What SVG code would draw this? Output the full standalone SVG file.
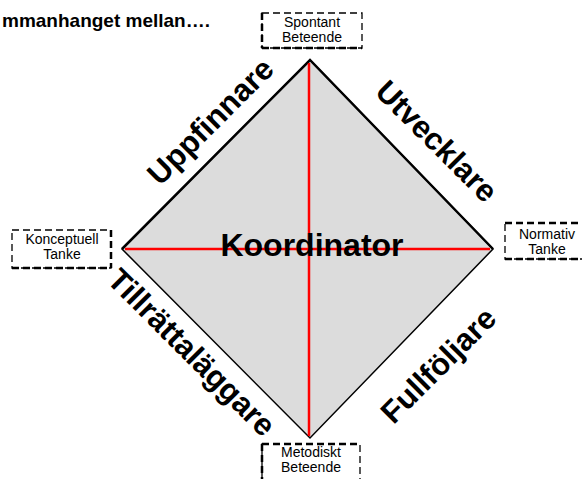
<svg xmlns="http://www.w3.org/2000/svg" width="582" height="479" viewBox="0 0 582 479">
<style>
.box{fill:#fff;stroke:#000;stroke-width:1.3;stroke-dasharray:7 4}
.boxb{fill:none;stroke:#000;stroke-width:2.5;stroke-dasharray:7 4}
.bt{font-family:"Liberation Sans",Arial,sans-serif;font-size:14px;fill:#000;text-anchor:middle}
.lab{font-family:"Liberation Sans",Arial,sans-serif;font-size:31px;font-weight:bold;fill:#000;text-anchor:middle}
.red{stroke:#ff0000;stroke-width:2.5}
</style>
<rect width="582" height="479" fill="#fff"/>
<text x="210" y="27" font-family="'Liberation Sans',Arial,sans-serif" font-size="19" font-weight="bold" text-anchor="end">mmanhanget mellan….</text>
<g id="diamond">
<polygon points="310,60 493,249 310,438 122,249" fill="#dcdcdc" stroke="#000" stroke-width="1.5"/>
<polyline points="122,249 310,60 493,249" fill="none" stroke="#000" stroke-width="2.5"/>
</g>
<g id="connectors">
<line class="red" x1="309" y1="63" x2="309" y2="436"/>
<line class="red" x1="125" y1="249" x2="490" y2="249"/>
</g>
<g id="koordinator">
<text x="312" y="256" font-family="'Liberation Sans',Arial,sans-serif" font-size="32" font-weight="bold" text-anchor="middle">Koordinator</text>
</g>
<g id="spontant">
<rect class="box" x="262" y="13" width="100" height="35"/>
<line class="boxb" x1="262" y1="48" x2="362" y2="48"/>
<line class="boxb" x1="262" y1="13" x2="262" y2="48"/>
<text class="bt" x="312" y="27">Spontant</text>
<text class="bt" x="312" y="42">Beteende</text>
</g>
<g id="konceptuell">
<rect class="box" x="12" y="230" width="99" height="38"/>
<line class="boxb" x1="12" y1="268" x2="111" y2="268"/>
<line class="boxb" x1="111" y1="230" x2="111" y2="268"/>
<text class="bt" x="62" y="244">Konceptuell</text>
<text class="bt" x="62" y="259">Tanke</text>
</g>
<g id="normativ">
<rect class="box" x="505" y="223" width="100" height="36"/>
<line class="boxb" x1="505" y1="223" x2="582" y2="223"/>
<line class="boxb" x1="505" y1="259" x2="582" y2="259"/>
<text class="bt" x="547" y="239">Normativ</text>
<text class="bt" x="547" y="254">Tanke</text>
</g>
<g id="metodiskt">
<rect class="box" x="262" y="444" width="98" height="40"/>
<line class="boxb" x1="262" y1="444" x2="360" y2="444"/>
<line class="boxb" x1="262" y1="444" x2="262" y2="479"/>
<text class="bt" x="311" y="457">Metodiskt</text>
<text class="bt" x="311" y="472">Beteende</text>
</g>
<g id="uppfinnare"><text class="lab" transform="translate(210,121) rotate(-45)" y="11">Uppfinnare</text></g>
<g id="utvecklare"><text class="lab" transform="translate(437,141) rotate(45)" y="11">Utvecklare</text></g>
<g id="tillrattalaggare"><text class="lab" transform="translate(192,352) rotate(45)" y="11">Tillrättaläggare</text></g>
<g id="fullfoljare"><text class="lab" transform="translate(438,365) rotate(-45)" y="11">Fullföljare</text></g>
</svg>
